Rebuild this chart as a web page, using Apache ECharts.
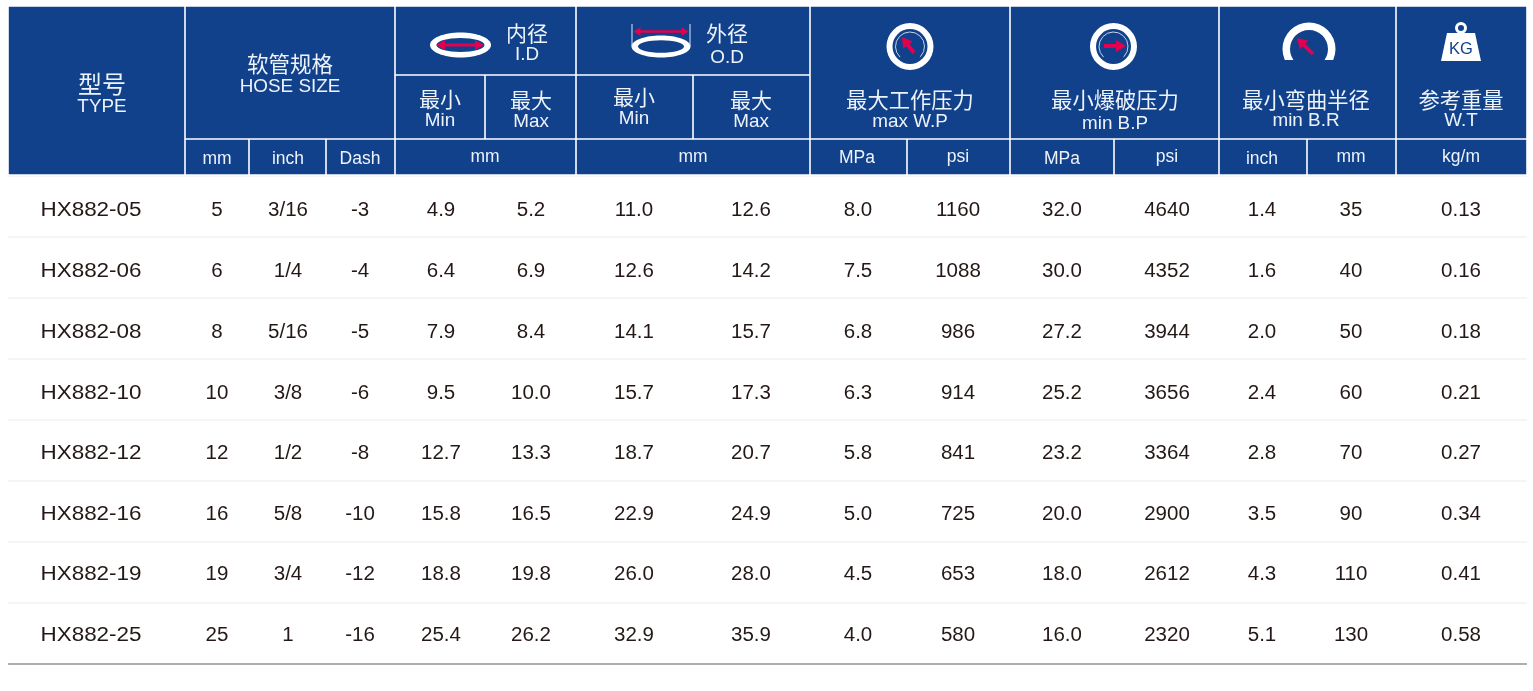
<!DOCTYPE html>
<html>
<head>
<meta charset="utf-8">
<title>HX882</title>
<script src="https://cdn.jsdelivr.net/npm/echarts@6/dist/echarts.min.js"></script>
<style>
html,body{margin:0;padding:0;background:#fff;}
#my{width:1533px;height:691px;}
</style>
</head>
<body>
<div id="my"></div>
<script>
// table values, one array per column
var models = ['HX882-05','HX882-06','HX882-08','HX882-10','HX882-12','HX882-16','HX882-19','HX882-25'];
var sizeMm = ['5','6','8','10','12','16','19','25'];
var sizeInch = ['3/16','1/4','5/16','3/8','1/2','5/8','3/4','1'];
var sizeDash = ['-3','-4','-5','-6','-8','-10','-12','-16'];
var idMin = ['4.9','6.4','7.9','9.5','12.7','15.8','18.8','25.4'];
var idMax = ['5.2','6.9','8.4','10.0','13.3','16.5','19.8','26.2'];
var odMin = ['11.0','12.6','14.1','15.7','18.7','22.9','26.0','32.9'];
var odMax = ['12.6','14.2','15.7','17.3','20.7','24.9','28.0','35.9'];
var wpMpa = ['8.0','7.5','6.8','6.3','5.8','5.0','4.5','4.0'];
var wpPsi = ['1160','1088','986','914','841','725','653','580'];
var bpMpa = ['32.0','30.0','27.2','25.2','23.2','20.0','18.0','16.0'];
var bpPsi = ['4640','4352','3944','3656','3364','2900','2612','2320'];
var brInch = ['1.4','1.6','2.0','2.4','2.8','3.5','4.3','5.1'];
var brMm = ['35','40','50','60','70','90','110','130'];
var weight = ['0.13','0.16','0.18','0.21','0.27','0.34','0.41','0.58'];
var columns = [models,sizeMm,sizeInch,sizeDash,idMin,idMax,odMin,odMax,wpMpa,wpPsi,bpMpa,bpPsi,brInch,brMm,weight];

// header texts
var titlesZh = ['型号','软管规格','内径','外径','最小','最大','最小','最大','最大工作压力','最小爆破压力','最小弯曲半径','参考重量'];
var titlesEn = ['TYPE','HOSE SIZE','I.D','O.D','Min','Max','Min','Max','max W.P','min B.P','min B.R','W.T'];
var units = ['mm','inch','Dash','mm','mm','MPa','psi','MPa','psi','inch','mm','kg/m'];

// layout, kept apart from the values
var colX = [91,217,288,360,441,531,634,751,858,958,1062,1167,1262,1351,1461];
var rowY = [210,271,332,393,453,514,574,635];
var rowLines = [237,298,359,420,481,542,603];
var lastLine = 664;
var tableL = 8, tableR = 1527;
var titleZhPos = [[102,84],[290,64],[527,33],[727,33],[440,99],[531,100],[634,97],[751,100],[910,100],[1115,100],[1306,100],[1461,100]];
var titleZhSize = [24,21.5,21,21,21,21,21,21,21.3,21.3,21.3,21.3];
var titleEnPos = [[102,106],[290,86],[527,54],[727,57],[440,120],[531,121],[634,118],[751,121],[910,121],[1115,123],[1306,120],[1461,120]];
var unitPos = [[217,159],[288,159],[360,159],[485,157],[693,157],[857,158],[958,157],[1062,159],[1167,157],[1262,159],[1351,157],[1461,157]];
var headCells = [
	[8,6,185,175],[185,6,395,139],[185,139,249,175],[249,139,326,175],[326,139,395,175],
	[395,6,576,75],[395,75,485,139],[485,75,576,139],[395,139,576,175],
	[576,6,810,75],[576,75,693,139],[693,75,810,139],[576,139,810,175],
	[810,6,1010,139],[810,139,907,175],[907,139,1010,175],
	[1010,6,1219,139],[1010,139,1114,175],[1114,139,1219,175],
	[1219,6,1396,139],[1219,139,1307,175],[1307,139,1396,175],
	[1396,6,1527,139],[1396,139,1527,175]
];

var HEAD = '#11418b', RED = '#e4004f', INK = '#231815', PALE = '#eef3fa';
var LATIN = '"Liberation Sans",Arial,sans-serif', CJK = '"Noto Sans CJK SC",sans-serif';

var bodyCells = [];
columns.forEach(function (col, c) {
	col.forEach(function (text, r) {
		bodyCells.push({x: colX[c], y: rowY[r], text: text, scale: c === 0 ? 1.095 : 1});
	});
});
var headTexts = [];
titlesZh.forEach(function (t, i) {
	headTexts.push({x: titleZhPos[i][0], y: titleZhPos[i][1], text: t, size: titleZhSize[i], font: CJK, scale: 1});
});
titlesEn.forEach(function (t, i) {
	headTexts.push({x: titleEnPos[i][0], y: titleEnPos[i][1] + 1, text: t, size: 18.5, font: LATIN, scale: 1.02});
});
units.forEach(function (t, i) {
	headTexts.push({x: unitPos[i][0], y: unitPos[i][1], text: t, size: 17.5, font: LATIN, scale: 1});
});

function xy(list) {
	return list.map(function (d) { return [d.x, d.y]; });
}

function textSeries(list, color, size) {
	return {
		type: 'custom',
		coordinateSystem: 'cartesian2d',
		silent: true,
		clip: false,
		z: 5,
		data: xy(list),
		renderItem: function (params, api) {
			var d = list[params.dataIndex];
			var p = api.coord([d.x, d.y]);
			return {
				type: 'text',
				x: p[0],
				y: p[1],
				scaleX: d.scale,
				style: {
					text: d.text,
					fill: color,
					font: (d.size || size) + 'px ' + (d.font || LATIN),
					align: 'center',
					verticalAlign: 'middle'
				}
			};
		}
	};
}

function rectSeries(list, color, inset, z) {
	return {
		type: 'custom',
		coordinateSystem: 'cartesian2d',
		silent: true,
		clip: false,
		z: z,
		data: list,
		renderItem: function (params, api) {
			var a = api.coord([api.value(0), api.value(1)]);
			var b = api.coord([api.value(2), api.value(3)]);
			return {
				type: 'rect',
				shape: {x: a[0] + inset, y: a[1] + inset, width: b[0] - a[0] - inset * 2, height: b[1] - a[1] - inset * 2},
				style: {fill: color}
			};
		}
	};
}

// red arrow as a polygon, from (x0,y0) with the tip at (x1,y1)
function arrow(x0, y0, x1, y1, w, hl, hw) {
	var len = Math.sqrt((x1 - x0) * (x1 - x0) + (y1 - y0) * (y1 - y0));
	var ux = (x1 - x0) / len, uy = (y1 - y0) / len;
	var nx = -uy, ny = ux;
	var bx = x1 - ux * hl, by = y1 - uy * hl;
	return {
		type: 'polygon',
		z: 10,
		silent: true,
		shape: {points: [
			[x0 + nx * w / 2, y0 + ny * w / 2],
			[bx + nx * w / 2, by + ny * w / 2],
			[bx + nx * hw / 2, by + ny * hw / 2],
			[x1, y1],
			[bx - nx * hw / 2, by - ny * hw / 2],
			[bx - nx * w / 2, by - ny * w / 2],
			[x0 - nx * w / 2, y0 - ny * w / 2]
		]},
		style: {fill: RED}
	};
}

function ring(cx, cy, r, r0) {
	return {type: 'ring', z: 10, silent: true, shape: {cx: cx, cy: cy, r: r, r0: r0}, style: {fill: '#fff'}};
}

function dial(cx, cy) {
	return {
		type: 'arc', z: 10, silent: true,
		shape: {cx: cx, cy: cy, r: 14.5, startAngle: Math.PI * 0.74, endAngle: Math.PI * 2.26, clockwise: true},
		style: {stroke: '#c6d3e8', lineWidth: 1, fill: null}
	};
}

function ellipse(cx, cy, rx, ry, fill) {
	return {type: 'ellipse', z: 10, silent: true, shape: {cx: cx, cy: cy, rx: rx, ry: ry}, style: {fill: fill}};
}

function tick(x, y0, y1) {
	return {type: 'line', z: 10, silent: true, shape: {x1: x, y1: y0, x2: x, y2: y1}, style: {stroke: '#dfe7f3', lineWidth: 1}};
}

var icons = [
	// I.D
	ellipse(460.5, 45, 30.5, 12.5, '#fff'),
	ellipse(460.5, 45, 24, 7, HEAD),
	arrow(460, 45, 436, 45, 2.8, 9, 10),
	arrow(460, 45, 484, 45, 2.8, 9, 10),
	// O.D
	ellipse(661, 46.5, 29.5, 11, '#fff'),
	ellipse(661, 46.5, 23, 6.3, HEAD),
	tick(632, 24, 46), tick(690, 24, 46),
	arrow(661, 31.5, 633.5, 31.5, 2.6, 7, 8.5),
	arrow(661, 31.5, 688.5, 31.5, 2.6, 7, 8.5),
	// max W.P
	ring(910, 46.5, 23.5, 17.5), dial(910, 46.5),
	arrow(914, 53, 902, 37, 3.8, 10, 12),
	// min B.P
	ring(1113.5, 46.5, 23.5, 17.5), dial(1113.5, 46.5),
	arrow(1104, 46, 1126, 46, 3.8, 10, 12),
	// min B.R
	ring(1309, 49, 26.5, 19),
	{type: 'rect', z: 11, silent: true, shape: {x: 1278, y: 60, width: 62, height: 16}, style: {fill: HEAD}},
	arrow(1313, 54, 1297, 38, 3.8, 10, 12),
	// W.T
	ring(1461, 28, 6, 3),
	{type: 'polygon', z: 10, silent: true, shape: {points: [[1447,33],[1475,33],[1481,61],[1441,61]]}, style: {fill: '#fff'}},
	{type: 'text', z: 12, silent: true, x: 1461, y: 49, style: {text: 'KG', fill: HEAD, font: '16.5px ' + LATIN, align: 'center', verticalAlign: 'middle'}}
];

var myChart = echarts.init(document.getElementById('my'));

var option = {
	animation: false,
	backgroundColor: '#fff',
	grid: {left: 0, right: 0, top: 0, bottom: 0},
	xAxis: {type: 'value', min: 0, max: 1533, show: false},
	yAxis: {type: 'value', min: 0, max: 691, inverse: true, show: false},
	graphic: icons,
	series: [
		rectSeries(headCells, HEAD, 0.8, 1),
		rectSeries([[tableL, 175.5, tableR, 177]], '#f5f5f5', 0, 1),
		rectSeries(rowLines.map(function (y) { return [tableL, y - 0.6, tableR, y + 0.6]; }), '#ececec', 0, 1),
		rectSeries([[tableL, lastLine - 1, tableR, lastLine + 1]], '#aeaeae', 0, 1),
		textSeries(headTexts, PALE, 17),
		textSeries(bodyCells, INK, 20.5)
	]
};

myChart.setOption(option);
</script>
</body>
</html>
